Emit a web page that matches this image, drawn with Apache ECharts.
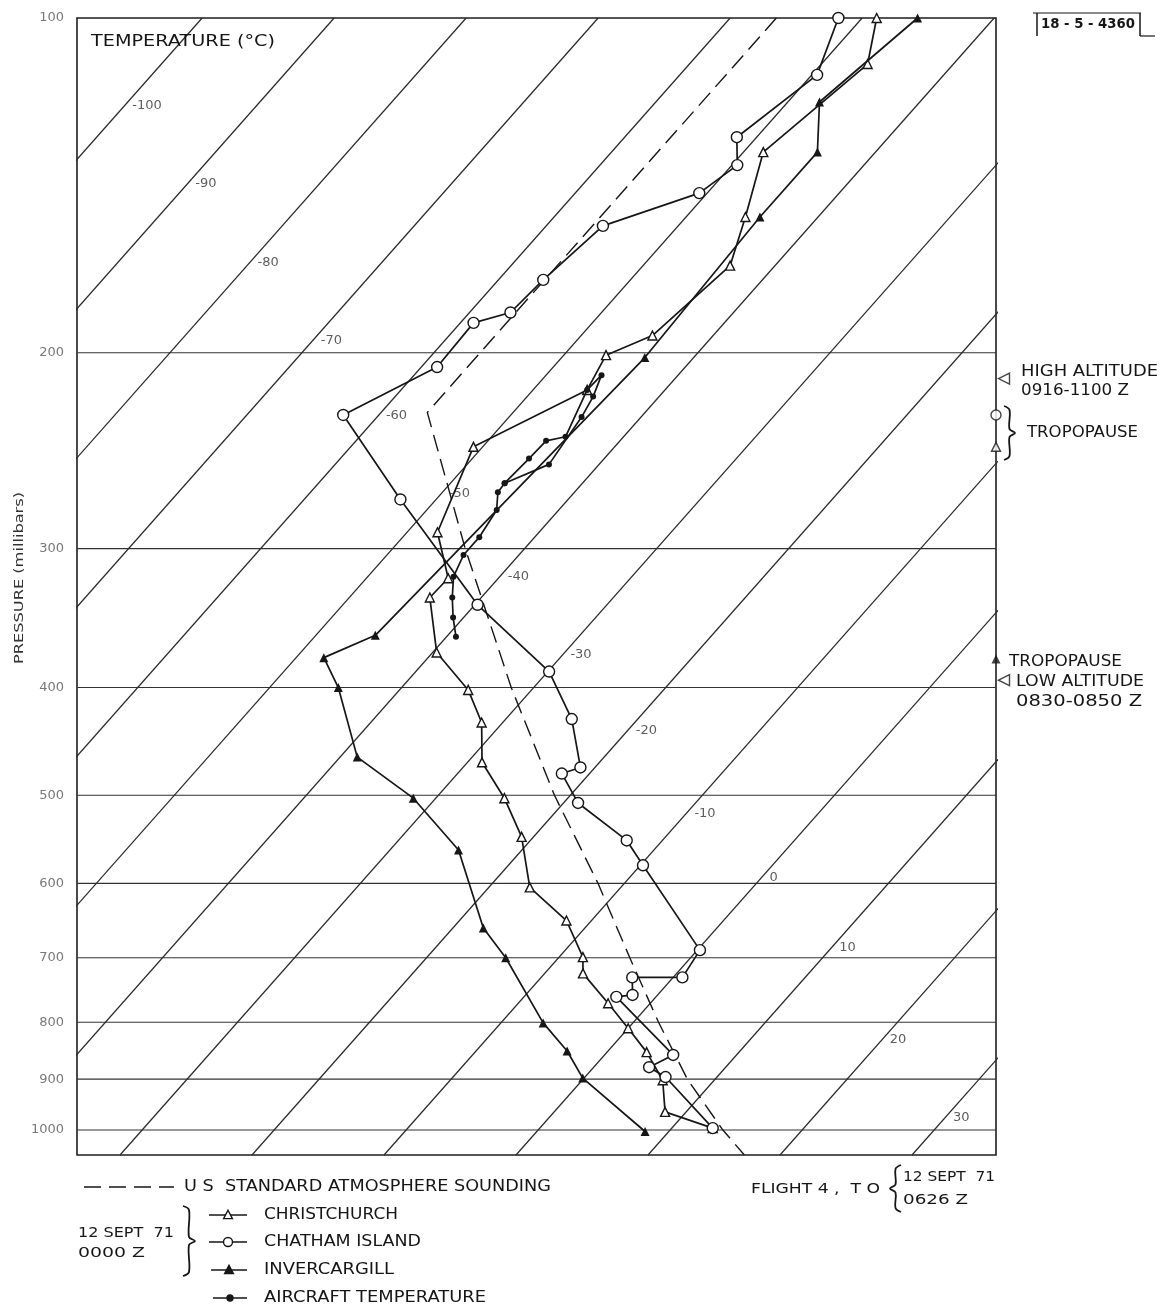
<!DOCTYPE html>
<html>
<head>
<meta charset="utf-8">
<script src="https://cdn.jsdelivr.net/npm/echarts@6/dist/echarts.min.js"></script>
<style>
html, body { margin: 0; padding: 0; background: #fff; }
#chart { width: 1164px; height: 1312px; }
</style>
</head>
<body>
<div id="chart"></div>
<script>
// pressure (mb) grid and isotherms (deg C)
var pressureTicks = [100, 200, 300, 400, 500, 600, 700, 800, 900, 1000];
var isotherms = [-100, -90, -80, -70, -60, -50, -40, -30, -20, -10, 0, 10, 20, 30];
var isoLabelP = [120, 141, 166, 195, 228, 268, 318, 374, 437, 519, 593, 686, 830, 975];

// US standard atmosphere
var stdT = [-56.5, -56.5, -44.5, -31.7, -21.2, -12.0, -4.6, 1.9, 7.9, 14.0, 17.3];
var stdP = [100, 226.3, 300, 400, 500, 600, 700, 800, 900, 1000, 1053];

// 12 Sept 71 0000 Z soundings
var christT = [-48.9, -46.5, -48.5, -45.5, -43.4, -44.6, -46.8, -45.9, -50.7, -47.7, -43.8, -43.9, -39.7, -34.8, -31.6, -28.9, -24.8, -20.9, -16.9, -11.9, -8.2, -7.1, -3.2, 0.0, 3.0, 6.1, 8.4, 13.1];
var christP = [100, 110, 132, 151, 167, 193, 201, 216, 243, 290, 319, 332, 372, 402, 430, 467, 503, 545, 605, 648, 699, 723, 769, 810, 851, 902, 963, 996];

var chathamT = [-51.8, -49.6, -51.5, -49.6, -50.6, -55.7, -56.6, -56.9, -59.0, -58.8, -62.7, -52.7, -39.8, -29.9, -25.0, -21.1, -22.1, -18.9, -12.7, -9.8, 0.2, 0.7, -3.1, -1.9, -3.0, 5.2, 4.2, 6.1, 13.1];
var chathamP = [100, 112.5, 128, 135.6, 143.7, 153.8, 172, 184, 188, 206, 227.5, 271, 337, 387, 427, 472, 478, 508, 549, 578, 689, 729, 729, 756, 759, 856, 878, 896, 996];

var inverT = [-45.8, -47.6, -44.4, -44.4, -43.7, -45.5, -47.9, -44.8, -38.7, -31.7, -24.8, -17.7, -14.0, -6.8, -3.1, -0.1, 8.2];
var inverP = [100, 119, 132, 151, 202, 359, 376, 400, 462, 503, 560, 658, 700, 801, 849, 898, 1003];

// aircraft temperature, flight 4
var aircraftT = [-39.3, -40.8, -42.2, -43.5, -44.2, -44.2, -44.7, -45.8, -45.9, -45.7, -45.6, -44.4, -45.9, -45.8, -45.0, -44.5, -43.8, -45.9];
var aircraftP = [360, 346, 332, 318, 304, 293, 277, 267, 262, 249, 240, 238, 216, 209.5, 219, 228.5, 252, 262];

// tropopause levels and flight altitudes (mb)
var tropoChatham = 227.5, tropoChrist = 243, tropoInver = 377;
var highAltP = 211, lowAltP = 394;

var X_MIN = -34.93, X_MAX = 34.69, P_TOP = 100, P_BOT = 1053, SKEW = 74.55;
var INK = '#161616';
var FONT = 'DejaVu Sans, sans-serif';

function skewX(t, p) { return t + SKEW * Math.log10(1000 / p); }
function pts(ts, ps) { return ts.map(function (t, i) { return [skewX(t, ps[i]), ps[i]]; }); }

var series = [];

// isobars
pressureTicks.slice(1).forEach(function (p) {
    series.push({
        type: 'line', data: [[X_MIN, p], [X_MAX, p]], symbol: 'none', silent: true,
        lineStyle: {color: '#333', width: 1.1}, z: 1
    });
});
// isotherms
isotherms.forEach(function (t) {
    series.push({
        type: 'line', data: [[skewX(t, P_TOP), P_TOP], [skewX(t, P_BOT), P_BOT]], symbol: 'none', silent: true,
        lineStyle: {color: '#2a2a2a', width: 1.25}, z: 1
    });
});
// isotherm labels
series.push({
    type: 'scatter', symbolSize: 0, clip: false, silent: true,
    data: isotherms.map(function (t, i) { return [skewX(t, isoLabelP[i]), isoLabelP[i], t]; }),
    label: {show: true, position: 'right', distance: 8, color: '#333', fontSize: 13, fontFamily: FONT,
        formatter: function (d) { return d.value[2]; }}
});
// pressure labels
series.push({
    type: 'scatter', symbolSize: 0, clip: false, silent: true,
    data: pressureTicks.map(function (p) { return [X_MIN, p]; }),
    label: {show: true, position: 'left', distance: 13, color: '#555', fontSize: 13, fontFamily: FONT,
        formatter: function (d) { return d.value[1]; }}
});

// standard atmosphere
series.push({
    type: 'line', data: pts(stdT, stdP), symbol: 'none', z: 2,
    lineStyle: {color: INK, width: 1.4, type: [17, 8]}
});

var lineSt = {color: INK, width: 1.7};
series.push({
    type: 'line', name: 'CHRISTCHURCH', data: pts(christT, christP), clip: false, z: 3,
    symbol: 'triangle', symbolSize: 9, lineStyle: lineSt,
    itemStyle: {color: '#fff', borderColor: INK, borderWidth: 1.4}
});
series.push({
    type: 'line', name: 'CHATHAM ISLAND', data: pts(chathamT, chathamP), clip: false, z: 3,
    symbol: 'circle', symbolSize: 11, lineStyle: lineSt,
    itemStyle: {color: '#fff', borderColor: INK, borderWidth: 1.4}
});
series.push({
    type: 'line', name: 'INVERCARGILL', data: pts(inverT, inverP), clip: false, z: 4,
    symbol: 'triangle', symbolSize: 9, lineStyle: lineSt,
    itemStyle: {color: INK}
});
series.push({
    type: 'line', name: 'AIRCRAFT TEMPERATURE', data: pts(aircraftT, aircraftP), clip: false, z: 5,
    symbol: 'circle', symbolSize: 6, lineStyle: lineSt,
    itemStyle: {color: INK}
});

// tropopause marks on right frame
series.push({
    type: 'scatter', clip: false, z: 6,
    data: [
        {value: [X_MAX, tropoChatham], symbol: 'circle', symbolSize: 10, itemStyle: {color: '#fff', borderColor: INK, borderWidth: 1.4}},
        {value: [X_MAX, tropoChrist], symbol: 'triangle', symbolSize: 9, itemStyle: {color: '#fff', borderColor: INK, borderWidth: 1.4}},
        {value: [X_MAX, tropoInver], symbol: 'triangle', symbolSize: 9, itemStyle: {color: INK}}
    ]
});
// flight altitude marks
series.push({
    type: 'scatter', clip: false, z: 6,
    symbol: 'triangle', symbolSize: [11, 11], symbolRotate: 90, symbolOffset: [8, 0],
    itemStyle: {color: '#fff', borderColor: INK, borderWidth: 1.4},
    data: [[X_MAX, highAltP], [X_MAX, lowAltP]]
});

// wide lettering: stretch text to the width it has in the drawing
var measure = document.createElement('canvas').getContext('2d');
function txt(s, x, y, size, width, opt) {
    opt = opt || {};
    var font = (opt.weight || 'normal') + ' ' + size + 'px ' + FONT;
    var sx = 1;
    if (width) {
        measure.font = font;
        sx = width / measure.measureText(s).width;
    }
    return {
        type: 'text', x: x, y: y, rotation: opt.rot || 0, scaleX: sx, z: 10,
        style: {text: s, font: font, fill: opt.color || INK,
            textAlign: opt.align || 'left', textVerticalAlign: 'middle', align: opt.align || 'left', verticalAlign: 'middle'}
    };
}
function brace(x, y1, y2, w) {
    var ym = (y1 + y2) / 2, h = w * 0.5;
    return {
        type: 'polyline', z: 10,
        shape: {points: [[x, y1], [x + h, y1 + 4], [x + h, ym - 4], [x + w, ym], [x + h, ym + 4], [x + h, y2 - 4], [x, y2]], smooth: 0.35},
        style: {stroke: INK, lineWidth: 1.8, fill: null}
    };
}
function seg(x1, y1, x2, y2, w, dash) {
    return {type: 'line', z: 10, shape: {x1: x1, y1: y1, x2: x2, y2: y2},
        style: {stroke: INK, lineWidth: w || 1.5, lineDash: dash || null}};
}
function tri(cx, cy, s, fill) {
    return {type: 'polygon', z: 11,
        shape: {points: [[cx, cy - s * 0.6], [cx + s * 0.55, cy + s * 0.45], [cx - s * 0.55, cy + s * 0.45]]},
        style: {fill: fill, stroke: INK, lineWidth: 1.4}};
}
function dot(cx, cy, r, fill) {
    return {type: 'circle', z: 11, shape: {cx: cx, cy: cy, r: r}, style: {fill: fill, stroke: INK, lineWidth: 1.4}};
}

var graphics = [
    txt('TEMPERATURE (°C)', 91, 42, 15, 184),
    txt('PRESSURE (millibars)', 20, 578, 13, 172, {rot: Math.PI / 2, align: 'center', color: '#333'}),
    // report number box
    txt('18 - 5 - 4360', 1088, 24, 14, 94, {align: 'center', weight: 'bold'}),
    seg(1033, 13, 1141, 13, 1.2), seg(1037, 13, 1037, 36, 1.5), seg(1140, 13, 1140, 36, 1.5), seg(1140, 36, 1155, 36, 1.2),
    // right side notes
    txt('HIGH ALTITUDE', 1021, 372, 15, 137),
    txt('0916-1100 Z', 1021, 391, 15, 108),
    brace(1004, 406, 460, 11),
    txt('TROPOPAUSE', 1027, 433, 15, 111),
    txt('TROPOPAUSE', 1009, 662, 15, 113),
    txt('LOW ALTITUDE', 1016, 682, 15, 128),
    txt('0830-0850 Z', 1016, 702, 15, 126),
    // legend
    seg(84, 1187, 174, 1187, 1.4, [17, 8]),
    txt('U S  STANDARD ATMOSPHERE SOUNDING', 184, 1187, 15, 367),
    txt('12 SEPT  71', 78, 1233, 14, 96),
    txt('0000 Z', 78, 1253, 14, 67),
    brace(183, 1206, 1276, 12),
    seg(209, 1215, 247, 1215), tri(228, 1215, 8, '#fff'),
    txt('CHRISTCHURCH', 264, 1215, 15, 134),
    seg(209, 1242, 247, 1242), dot(228, 1242, 4.5, '#fff'),
    txt('CHATHAM ISLAND', 264, 1242, 15, 157),
    seg(211, 1270, 247, 1270), tri(229, 1270, 8, INK),
    txt('INVERCARGILL', 264, 1270, 15, 130),
    seg(213, 1298, 247, 1298), dot(230, 1298, 3, INK),
    txt('AIRCRAFT TEMPERATURE', 264, 1298, 15, 222),
    txt('FLIGHT 4 ,  T O', 751, 1189, 14, 129),
    brace(901, 1165, 1212, -11),
    txt('12 SEPT  71', 903, 1177, 14, 92),
    txt('0626 Z', 903, 1200, 14, 65)
];

var chart = echarts.init(document.getElementById('chart'));
chart.setOption({
    animation: false,
    backgroundColor: '#fff',
    grid: {left: 77, top: 18, width: 919, height: 1137, show: true, borderColor: '#1e1e1e', borderWidth: 1.6, backgroundColor: 'transparent'},
    xAxis: {type: 'value', min: X_MIN, max: X_MAX, show: false},
    yAxis: {type: 'log', logBase: 10, min: P_TOP, max: P_BOT, inverse: true, show: false},
    series: series,
    graphic: graphics
});
</script>
</body>
</html>
